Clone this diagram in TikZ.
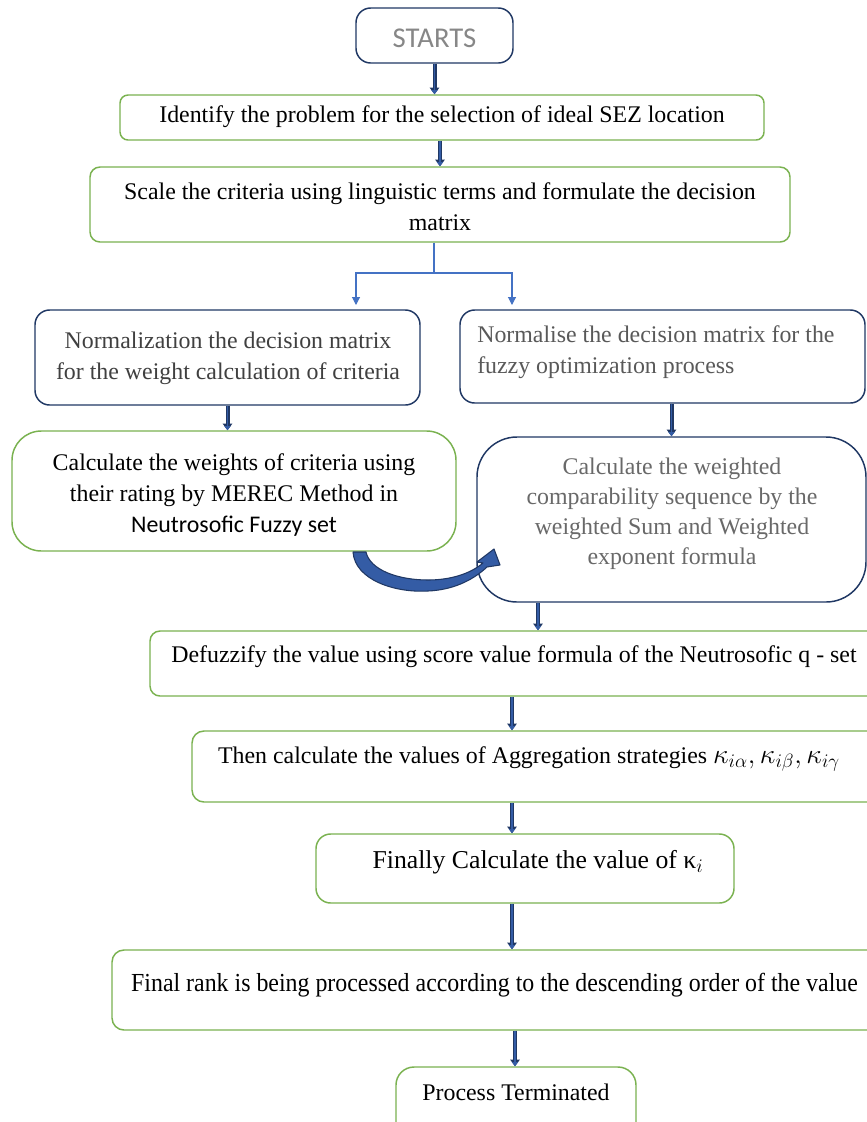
\documentclass[tikz,border=0pt]{standalone}
\usepackage{fontspec}
\usepackage{graphicx}
\setmainfont{Liberation Serif}
\newfontfamily\calibri{Carlito}
\usetikzlibrary{arrows.meta,calc}
\definecolor{navyc}{RGB}{32,56,100}
\definecolor{greenc}{RGB}{122,178,80}
\definecolor{bluec}{RGB}{68,114,196}
\definecolor{arrowc}{RGB}{52,92,165}
\definecolor{darkgrey}{RGB}{64,64,64}
\definecolor{midgrey}{RGB}{89,89,89}
\definecolor{lightgrey}{RGB}{105,105,105}
\definecolor{startgrey}{RGB}{135,135,135}
\tikzset{
  box/.style={draw, rectangle, inner sep=0pt, fill=white},
  gbox/.style={box, draw=greenc, line width=1.1pt},
  nbox/.style={box, draw=navyc, line width=1.1pt},
  txt/.style={font=\fontsize{17.9}{23.25}\selectfont, align=center, inner sep=0pt},
  barrow/.style={draw=arrowc, line width=1.4pt, -{Triangle[width=4.6pt,length=3.2pt]},
    preaction={draw=navyc, line width=3pt, -{Triangle[width=7pt,length=5pt]}}},
  sarrow/.style={draw=bluec, line width=0.8pt, -{Triangle[width=6pt,length=6pt]}},
  sline/.style={draw=bluec, line width=0.8pt},
}
\begin{document}
\begin{tikzpicture}[x=0.75pt,y=-0.75pt]
\path[fill=white] (0,0) rectangle (867,1122);
\useasboundingbox (0,0) rectangle (867,1122);

% boxes
\node[nbox, minimum width=117.75pt, minimum height=41.25pt, rounded corners=11pt] (start) at (434.5,35.5) {};
\node[font=\calibri\fontsize{21.5}{24}\selectfont, text=startgrey, inner sep=0pt] (tstart) at (434.5,38) {STARTS};

\node[gbox, minimum width=483pt, minimum height=33.75pt, rounded corners=6pt] (ident) at (442,117.5) {};
\node[txt] (tident) at (442,117) {Identify the problem for the selection of ideal SEZ location};

\node[gbox, minimum width=525pt, minimum height=56.25pt, rounded corners=7.5pt] (scale) at (440,204.5) {};
\node[txt] (tscale) at (440,207) {Scale the criteria using linguistic terms and formulate the decision\\matrix};

\node[nbox, minimum width=288.75pt, minimum height=71.25pt, rounded corners=11pt] (lnorm) at (227.5,357.5) {};
\node[txt, text=darkgrey] (tlnorm) at (228,358) {Normalization the decision matrix\\for the weight calculation of criteria};

\node[nbox, minimum width=303.75pt, minimum height=69.75pt, rounded corners=11pt] (rnorm) at (662.5,356.5) {};
\node[txt, text=midgrey, align=left, anchor=west] (trnorm) at (477,352) {Normalise the decision matrix for the\\fuzzy optimization process};

\node[gbox, minimum width=333pt, minimum height=90pt, rounded corners=22pt] (lcalc) at (234,491) {};
\node[txt] (tlcalc) at (234,495) {Calculate the weights of criteria using\\their rating by MEREC Method in\\{\calibri Neutrosofic Fuzzy set}};

\node[nbox, minimum width=291.75pt, minimum height=123.75pt, rounded corners=30pt] (rcalc) at (671.5,519.5) {};
\node[txt, text=lightgrey, font=\fontsize{17.9}{22.5}\selectfont] (trcalc) at (672,514) {Calculate the weighted\\comparability sequence by the\\weighted Sum and Weighted\\exponent formula};

\node[gbox, minimum width=551.25pt, minimum height=48.75pt, rounded corners=7.5pt] (defuzz) at (517.5,663.5) {};
\node[txt] (tdefuzz) at (514,657) {Defuzzify the value using score value formula of the Neutrosofic q - set};

\node[gbox, minimum width=519.75pt, minimum height=53.25pt, rounded corners=9pt] (then) at (538.5,766.5) {};
\node[txt] (tthen) at (529,759) {Then calculate the values of Aggregation strategies {\fontsize{20.5}{23}\selectfont$\kappa_{i\alpha},\kappa_{i\beta},\kappa_{i\gamma}$}};

\node[gbox, minimum width=313.5pt, minimum height=51.75pt, rounded corners=11pt] (final) at (525,868.5) {};
\node[txt, font=\fontsize{19.3}{23}\selectfont] (tfinal) at (538,862) {Finally Calculate the value of κ$_i$};

\node[gbox, minimum width=579.75pt, minimum height=60pt, rounded corners=9pt] (rank) at (498.5,990) {};
\node[txt] (trank) at (494.5,985) {\resizebox{545pt}{\height}{\fontsize{19.5}{22}\selectfont Final rank is being processed according to the descending order of the value}};

\node[gbox, minimum width=180pt, minimum height=54.75pt, rounded corners=13.5pt] (proc) at (516,1103.5) {};
\node[txt] (tproc) at (516,1092) {Process Terminated};

% split connector
\coordinate (sp) at (434,273);
\coordinate (la) at (356,305);
\coordinate (ra) at (512,305);
\draw[sline] (434,0 |- scale.south) -- (sp);
\draw[sarrow] (sp) -| (la);
\draw[sarrow] (sp) -| (ra);

% block arrows
\draw[barrow] (start.south) -- (start.south |- ident.north);
\draw[barrow] (scale.north |- ident.south) -- (scale.north);
\draw[barrow] (lnorm.south) -- (lnorm.south |- lcalc.north);
\draw[barrow] (rcalc.north |- rnorm.south) -- (rcalc.north);
\draw[barrow] (538,0 |- rcalc.south) -- (538,0 |- defuzz.north);
\draw[barrow] (512,0 |- defuzz.south) -- (512,0 |- then.north);
\draw[barrow] (512,0 |- then.south) -- (512,0 |- final.north);
\draw[barrow] (512,0 |- final.south) -- (512,0 |- rank.north);
\draw[barrow] (515,0 |- rank.south) -- (515,0 |- proc.north);

% curved block arrow from lcalc to rcalc
\filldraw[fill=arrowc, draw=navyc, line width=0.8pt, line join=round]
  (353,552) .. controls (355,580) and (395,593) .. (428,591)
  .. controls (452,590) and (472,581) .. (487,567)
  -- (500,565) -- (494,549) -- (477,562) -- (483,563)
  .. controls (470,574) and (450,580) .. (428,580)
  .. controls (398,580) and (370,570) .. (366,552) -- cycle;
\end{tikzpicture}
\end{document}
